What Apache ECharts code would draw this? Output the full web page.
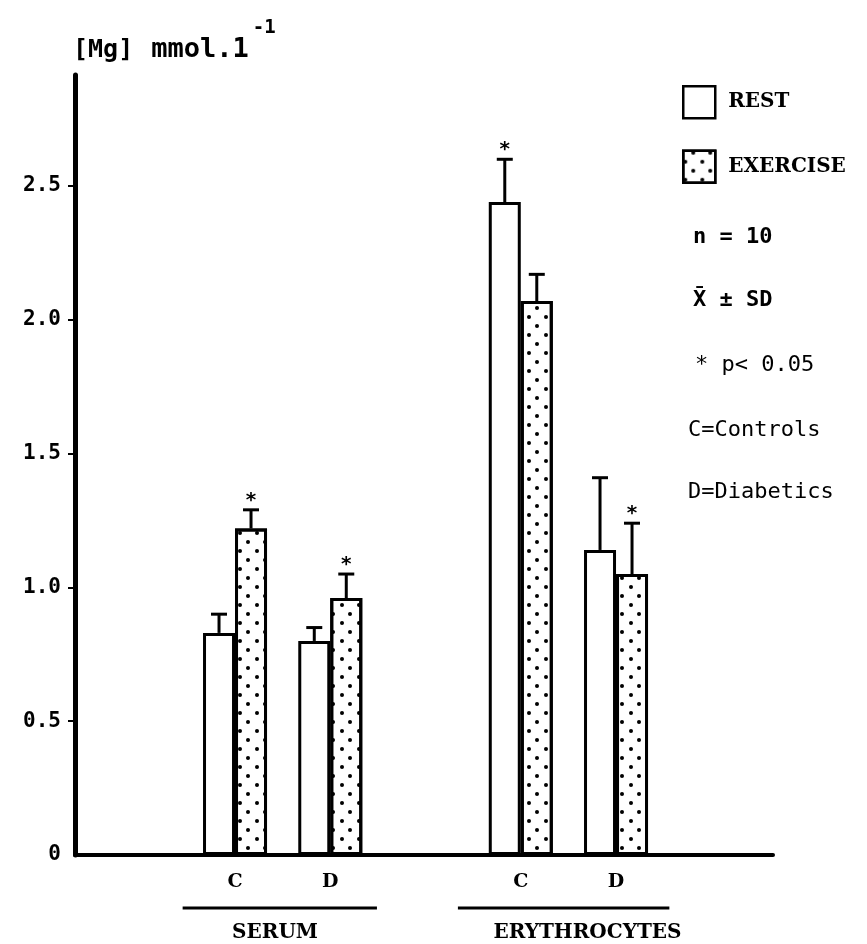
<!DOCTYPE html>
<html><head><meta charset="utf-8">
<script src="https://cdn.jsdelivr.net/npm/echarts@6/dist/echarts.min.js"></script>
<style>html,body{margin:0;padding:0;background:#fff}#c{width:867px;height:944px}</style>
</head><body><div id="c"></div>
<script>
// ---- data ----
const groups = ['C', 'D', 'C', 'D'];
const groupSlot = [0, 1, 3, 4];           // slot index on the x axis (one empty slot between sections)
const restMean = [0.83, 0.80, 2.44, 1.14];
const restSD   = [0.07, 0.05, 0.16, 0.27];
const restSig  = [0, 0, 1, 0];
const exMean   = [1.22, 0.96, 2.07, 1.05];
const exSD     = [0.07, 0.09, 0.10, 0.19];
const exSig    = [1, 1, 0, 1];
const yTicks      = [0, 0.5, 1.0, 1.5, 2.0, 2.5];
const yTickLabels = ['0', '0.5', '1.0', '1.5', '2.0', '2.5'];
const sections = ['SERUM', 'ERYTHROCYTES'];
const notes = ['n = 10', 'X\u0304 \u00B1 SD', '* p< 0.05', 'C=Controls', 'D=Diabetics'];

// ---- layout / style ----
const BAR_W = 32;
const MONO = '"DejaVu Sans Mono", monospace';
const SERIF = '"DejaVu Serif", serif';
const dots = {
  symbol: 'circle', symbolSize: 1, color: '#000',
  dashArrayX: [[3.5, 12.5], [0, 8, 3.5, 4.5]], dashArrayY: [3.5, 4.5], rotation: 0
};

function rows(mean, sd, sig) {
  return mean.map((m, i) => [groupSlot[i], m, sd[i], sig[i]]);
}
function errRender(sign) {
  return function (params, api) {
    const x = api.value(0), m = api.value(1), sd = api.value(2);
    const base = api.coord([x, m]);
    const top = api.coord([x, m + sd]);
    const cx = base[0] + sign * BAR_W / 2;
    const ch = [
      { type: 'line', shape: { x1: cx, y1: base[1], x2: cx, y2: top[1] }, style: { stroke: '#000', lineWidth: 3 } },
      { type: 'line', shape: { x1: cx - 8, y1: top[1], x2: cx + 8, y2: top[1] }, style: { stroke: '#000', lineWidth: 3 } }
    ];
    if (api.value(3)) {
      ch.push({ type: 'text', x: cx, y: top[1] - 9,
        style: { text: '*', fill: '#000', font: 'bold 20px "DejaVu Sans"', align: 'center', verticalAlign: 'middle' } });
    }
    return { type: 'group', children: ch };
  };
}

const chart = echarts.init(document.getElementById('c'), null, { renderer: 'canvas' });
const option = {
  backgroundColor: '#fff',
  animation: false,
  title: {
    text: '{a|[Mg]}{b|mmol.1}{s|-1}',
    left: 68, top: 14,
    textStyle: {
      rich: {
        a: { fontFamily: MONO, fontSize: 25, color: '#000', lineHeight: 44, verticalAlign: 'bottom', padding: [0, 18, 0, 0] },
        b: { fontFamily: MONO, fontSize: 27, color: '#000', lineHeight: 44, verticalAlign: 'bottom', padding: [0, 4, 0, 0] },
        s: { fontFamily: MONO, fontSize: 19, color: '#000', lineHeight: 44, verticalAlign: 'top' }
      }
    }
  },
  legend: {
    data: ['REST', 'EXERCISE'], orient: 'vertical', left: 677, top: 80,
    itemWidth: 32, itemHeight: 32, itemGap: 30, icon: 'rect', selectedMode: false,
    itemStyle: { borderWidth: 2.5, borderColor: '#000' },
    textStyle: { fontFamily: SERIF, fontWeight: 'bold', fontSize: 20, color: '#000', padding: [0, 0, 0, 8] }
  },
  grid: { left: 75, right: 94, top: 75, bottom: 89, containLabel: false },
  xAxis: {
    type: 'value', min: -1.68, max: 5.648,
    splitLine: { show: false }, axisTick: { show: false },
    axisLine: { show: true, onZero: false, lineStyle: { color: '#000', width: 4 } },
    axisLabel: {
      customValues: groupSlot, margin: 18,
      formatter: v => groups[groupSlot.indexOf(Math.round(v))] || '',
      fontFamily: SERIF, fontWeight: 'bold', fontSize: 19, color: '#000'
    }
  },
  yAxis: {
    type: 'value', min: 0, max: 2.915,
    splitLine: { show: false },
    axisLine: { show: true, onZero: false, lineStyle: { color: '#000', width: 5 } },
    axisTick: { show: true, customValues: yTicks.slice(1), length: 7, lineStyle: { color: '#000', width: 2 } },
    axisLabel: {
      customValues: yTicks, margin: 14,
      formatter: v => { const i = yTicks.findIndex(t => Math.abs(t - v) < 1e-6); return i >= 0 ? yTickLabels[i] : ''; },
      fontFamily: MONO, fontWeight: 'bold', fontSize: 21, color: '#000'
    }
  },
  series: [
    { name: 'REST', type: 'bar', barWidth: BAR_W, barGap: '0%',
      data: rows(restMean, restSD, restSig).map(r => [r[0], r[1]]),
      itemStyle: { color: '#fff', borderColor: '#000', borderWidth: 3 } },
    { name: 'EXERCISE', type: 'bar', barWidth: BAR_W, barGap: '0%',
      data: rows(exMean, exSD, exSig).map(r => [r[0], r[1]]),
      itemStyle: { color: '#fff', borderColor: '#000', borderWidth: 3, decal: dots } },
    { name: 'restErr', type: 'custom', renderItem: errRender(-1), encode: { x: 0, y: 1 },
      data: rows(restMean, restSD, restSig), z: 5 },
    { name: 'exErr', type: 'custom', renderItem: errRender(1), encode: { x: 0, y: 1 },
      data: rows(exMean, exSD, exSig), z: 5 }
  ]
};
chart.setOption(option);

// section underlines and names, placed through the x axis scale
const spans = [[-0.55, 1.49, 0.42], [2.34, 4.56, 3.7]];
const yLine = 908, yText = 933;
const g = [];
spans.forEach((s, i) => {
  const x1 = chart.convertToPixel({ xAxisIndex: 0 }, s[0]);
  const x2 = chart.convertToPixel({ xAxisIndex: 0 }, s[1]);
  const xc = chart.convertToPixel({ xAxisIndex: 0 }, s[2]);
  g.push({ type: 'line', shape: { x1, y1: yLine, x2, y2: yLine }, style: { stroke: '#000', lineWidth: 3 } });
  g.push({ type: 'text', x: xc, y: yText, style: { text: sections[i], fill: '#000', font: 'bold 20px ' + SERIF, align: 'center', verticalAlign: 'middle' } });
});
const noteY = [237, 300, 365, 430, 492];
const noteX = [693, 693, 695, 688, 688];
const noteBold = [true, true, false, false, false];
notes.forEach((t, i) => {
  g.push({ type: 'text', x: noteX[i], y: noteY[i], style: { text: t, fill: '#000', font: (noteBold[i] ? 'bold ' : '') + '22px ' + MONO, align: 'left', verticalAlign: 'middle' } });
});
chart.setOption({ graphic: g });
</script>
</body></html>
